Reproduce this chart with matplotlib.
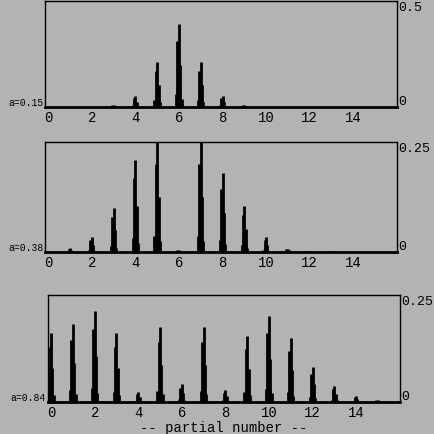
import numpy as np
import matplotlib
matplotlib.use("Agg")
import matplotlib.pyplot as plt

# peak amplitude per partial (0..15), one list per panel
partials = np.arange(16)
amp_015 = [0, 0, 0, 0.01, 0.05, 0.21, 0.39, 0.21, 0.05, 0.01, 0, 0, 0, 0, 0, 0]
amp_038 = [0.003, 0.01, 0.034, 0.10, 0.21, 0.25, 0.005, 0.25, 0.18, 0.105, 0.034, 0.008, 0.002, 0.002, 0, 0]
amp_084 = [0.161, 0.182, 0.213, 0.161, 0.023, 0.175, 0.042, 0.175, 0.027, 0.154, 0.201, 0.15, 0.082, 0.037, 0.014, 0.005]
labels = ["a=0.15", "a=0.38", "a=0.84"]
ytops = [0.5, 0.25, 0.25]
ytop_labels = ["0.5", "0.25", "0.25"]

# shape of each spectral lobe (bin offsets and relative heights)
lobe_off = [-0.13, -0.07, 0.0, 0.06, 0.12]
lobe_rel = [0.15, 0.8, 1.0, 0.5, 0.1]

bg = "#b3b3b3"
mono = "Liberation Mono"

fig = plt.figure(figsize=(4.35, 4.35), dpi=100, facecolor=bg)
rects = [[0.1034, 0.752, 0.809, 0.244],
         [0.1034, 0.418, 0.809, 0.253],
         [0.110, 0.0736, 0.809, 0.246]]

for rect, amps, lab, top, toplab in zip(rects, [amp_015, amp_038, amp_084], labels, ytops, ytop_labels):
    ax = fig.add_axes(rect, facecolor=bg)
    for p, a in zip(partials, amps):
        if a <= 0:
            continue
        xs = [p + o for o in lobe_off]
        hs = [a * r for r in lobe_rel]
        ax.vlines(xs, 0, hs, color="black", lw=2)
    ax.set_xlim(-0.15, 16)
    ax.set_ylim(0, top)
    ax.set_xticks(range(0, 16, 2))
    ax.tick_params(axis="x", length=0, labelsize=10, pad=2)
    ax.yaxis.tick_right()
    ax.set_yticks([0, top])
    ax.set_yticklabels(["0", toplab])
    ax.tick_params(axis="y", length=0, labelsize=9.5, pad=1)
    ylabs = ax.get_yticklabels()
    ylabs[0].set_va("bottom")
    ylabs[1].set_va("top")
    for t in ax.get_xticklabels() + ylabs:
        t.set_family(mono)
    for s in ax.spines.values():
        s.set_linewidth(1)
    ax.spines["bottom"].set_linewidth(2)
    ax.text(-0.005, 0.0, lab, transform=ax.transAxes, ha="right", va="bottom",
            fontsize=7, family=mono)
    last = ax

last.set_xlabel("-- partial number --", family=mono, fontsize=10, labelpad=1)

fig.savefig("out.png", dpi=100, facecolor=bg)
